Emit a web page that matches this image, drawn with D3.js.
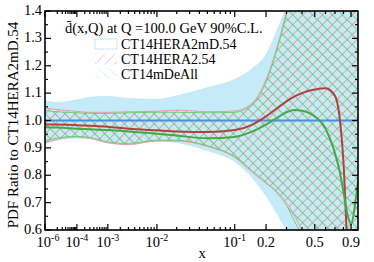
<!DOCTYPE html>
<html>
<head>
<meta charset="utf-8">
<script src="https://cdn.jsdelivr.net/npm/d3@7"></script>
<style>
  body { margin: 0; background: #fff; }
  svg { display: block; }
  svg text { font-family: "Liberation Serif", "DejaVu Serif", serif; }
</style>
</head>
<body>
<div id="myChart"></div>
<script>
let width = 374
let height = 262

// values
const xs = [1e-6, 1e-5, 1e-4, 3e-4, 1e-3, 3e-3, 1e-2, 2e-2, 5e-2, 0.1, 0.15, 0.2, 0.25, 0.3, 0.35, 0.4, 0.5, 0.6, 0.7, 0.75, 0.8, 0.85, 0.9, 0.95, 1.0]
const blueHi = [1.072, 1.066, 1.075, 1.085, 1.088, 1.080, 1.077, 1.090, 1.120, 1.150, 1.190, 1.240, 1.330, 1.420, 1.550, 1.700, 1.800, 1.800, 1.800, 1.800, 1.800, 1.800, 1.800, 1.800, 1.800]
const blueLo = [0.916, 0.928, 0.935, 0.933, 0.920, 0.912, 0.925, 0.920, 0.890, 0.850, 0.790, 0.725, 0.660, 0.600, 0.550, 0.500, 0.400, 0.400, 0.400, 0.400, 0.400, 0.400, 0.400, 0.400, 0.400]
const pinkHi = [1.045, 1.040, 1.033, 1.030, 1.030, 1.032, 1.034, 1.038, 1.032, 1.035, 1.065, 1.150, 1.270, 1.400, 1.550, 1.700, 1.800, 1.800, 1.800, 1.800, 1.800, 1.800, 1.800, 1.800, 1.800]
const pinkLo = [0.918, 0.932, 0.940, 0.935, 0.918, 0.912, 0.925, 0.925, 0.905, 0.865, 0.810, 0.770, 0.740, 0.700, 0.650, 0.600, 0.500, 0.450, 0.400, 0.400, 0.400, 0.400, 0.400, 0.400, 0.400]
const greenHi = [1.036, 1.032, 1.028, 1.026, 1.026, 1.028, 1.030, 1.030, 1.028, 1.030, 1.060, 1.140, 1.260, 1.390, 1.540, 1.700, 1.800, 1.800, 1.800, 1.800, 1.800, 1.800, 1.800, 1.800, 1.800]
const greenLo = [0.926, 0.936, 0.942, 0.938, 0.922, 0.916, 0.928, 0.928, 0.908, 0.868, 0.815, 0.775, 0.735, 0.690, 0.630, 0.580, 0.500, 0.450, 0.400, 0.400, 0.400, 0.400, 0.400, 0.400, 0.400]
const redMid = [0.985, 0.985, 0.983, 0.981, 0.977, 0.970, 0.964, 0.960, 0.958, 0.965, 0.985, 1.015, 1.045, 1.070, 1.088, 1.100, 1.113, 1.118, 1.090, 1.020, 0.850, 0.550, 0.400, 0.400, 0.400]
const greenMid = [0.975, 0.974, 0.970, 0.968, 0.965, 0.960, 0.952, 0.945, 0.935, 0.940, 0.960, 0.985, 1.010, 1.030, 1.038, 1.036, 1.015, 0.970, 0.880, 0.820, 0.740, 0.660, 0.620, 0.680, 0.780]

const xMajor = [1e-6, 1e-4, 1e-3, 1e-2, 0.1, 0.2, 0.5, 0.9]
const xLabels = [["10", "-6"], ["10", "-4"], ["10", "-3"], ["10", "-2"], ["10", "-1"], ["0.2", ""], ["0.5", ""], ["0.9", ""]]
const yMajor = [0.6, 0.7, 0.8, 0.9, 1.0, 1.1, 1.2, 1.3, 1.4]
const legendNames = ["CT14HERA2mD.54", "CT14HERA2.54", "CT14mDeAll"]

const pLeft = 45, pRight = 358, pTop = 11, pBottom = 230

let x = d3.scalePow().exponent(0.2).domain([1e-6, 1]).range([pLeft, pRight])
let y = d3.scaleLinear().domain([0.6, 1.4]).range([pBottom, pTop])

let svg = d3.select("#myChart")
  .append("svg")
  .attr("width", width)
  .attr("height", height)

let defs = svg.append("defs")
defs.append("clipPath").attr("id", "plotclip")
  .append("rect")
  .attr("x", pLeft).attr("y", pTop)
  .attr("width", pRight - pLeft).attr("height", pBottom - pTop)

function hatch(id, color, angle, sw, dash) {
  let p = defs.append("pattern")
    .attr("id", id)
    .attr("patternUnits", "userSpaceOnUse")
    .attr("width", 7).attr("height", 7)
    .attr("patternTransform", "rotate(" + angle + ")")
  p.append("line")
    .attr("x1", 0).attr("y1", 0).attr("x2", 0).attr("y2", 7)
    .attr("stroke", color)
    .attr("stroke-width", sw)
    .attr("stroke-dasharray", dash)
}
hatch("pinkHatch", "#ee8896", 45, 1.6, null)
hatch("greenHatch", "#5cc85c", -45, 1.6, null)
hatch("pinkHatchL", "#f4a8b2", 45, 1, null)
hatch("greenHatchL", "#8fdc8f", -45, 1, "1,1")

let idx = d3.range(xs.length)
let band = (hi, lo) => d3.area()
  .x(i => x(xs[i]))
  .y0(i => y(lo[i]))
  .y1(i => y(hi[i]))
  .curve(d3.curveMonotoneX)
let line = vals => d3.line()
  .x(i => x(xs[i]))
  .y(i => y(vals[i]))
  .curve(d3.curveMonotoneX)

let plot = svg.append("g").attr("clip-path", "url(#plotclip)")

plot.append("path").attr("d", band(blueHi, blueLo)(idx))
  .attr("fill", "#c6ebf8").attr("stroke", "#b0e0f4").attr("stroke-width", 0.6)
plot.append("path").attr("d", band(pinkHi, pinkLo)(idx))
  .attr("fill", "url(#pinkHatch)")
plot.append("path").attr("d", band(greenHi, greenLo)(idx))
  .attr("fill", "url(#greenHatch)")

// band edges
;[[pinkHi, "#ee8896"], [pinkLo, "#ee8896"], [greenHi, "#5cc85c"], [greenLo, "#5cc85c"]].forEach(d => {
  plot.append("path").attr("d", line(d[0])(idx))
    .attr("fill", "none").attr("stroke", d[1]).attr("stroke-width", 0.8)
})

plot.append("line")
  .attr("x1", pLeft).attr("x2", pRight)
  .attr("y1", y(1)).attr("y2", y(1))
  .attr("stroke", "#4a90e2").attr("stroke-width", 2)
plot.append("path").attr("d", line(redMid)(idx))
  .attr("fill", "none").attr("stroke", "#b3403e").attr("stroke-width", 2)
plot.append("path").attr("d", line(greenMid)(idx))
  .attr("fill", "none").attr("stroke", "#45a845").attr("stroke-width", 2)

// axes, ticks inward on all four sides
let xMinor = []
for (let e = -5; e <= -1; e++) {
  for (let k = 1; k <= 9; k++) {
    let v = k * Math.pow(10, e)
    if (!xMajor.some(m => Math.abs(m - v) < v * 1e-6)) xMinor.push(v)
  }
}
let yMinor = d3.range(0.65, 1.4, 0.1)

function ticks(g, vals, len, horizontal) {
  vals.forEach(v => {
    if (horizontal) {
      g.append("line").attr("x1", x(v)).attr("x2", x(v)).attr("y1", pBottom).attr("y2", pBottom - len)
      g.append("line").attr("x1", x(v)).attr("x2", x(v)).attr("y1", pTop).attr("y2", pTop + len)
    } else {
      g.append("line").attr("y1", y(v)).attr("y2", y(v)).attr("x1", pLeft).attr("x2", pLeft + len)
      g.append("line").attr("y1", y(v)).attr("y2", y(v)).attr("x1", pRight).attr("x2", pRight - len)
    }
  })
}
let tg = svg.append("g").attr("stroke", "#000").attr("stroke-width", 1.2)
ticks(tg, xMajor, 6, true)
ticks(tg, xMinor, 3, true)
ticks(tg, yMajor, 6, false)
ticks(tg, yMinor, 3, false)

svg.append("rect")
  .attr("x", pLeft).attr("y", pTop)
  .attr("width", pRight - pLeft).attr("height", pBottom - pTop)
  .attr("fill", "none").attr("stroke", "#000").attr("stroke-width", 1.6)

svg.append("g").selectAll("text")
  .data(yMajor)
  .enter().append("text")
  .attr("x", pLeft - 3)
  .attr("y", d => y(d) + 4)
  .attr("text-anchor", "end")
  .attr("font-size", 14.5)
  .text(d => d.toFixed(1))

xMajor.forEach((v, i) => {
  let t = svg.append("text")
    .attr("x", x(v) + (i == 0 ? 3 : 0))
    .attr("y", 246.5)
    .attr("text-anchor", "middle")
    .attr("font-size", 14.5)
  t.append("tspan").text(xLabels[i][0])
  if (xLabels[i][1]) {
    t.append("tspan").attr("dy", -6).attr("font-size", 10).text(xLabels[i][1])
  }
})

svg.append("text")
  .attr("x", 202).attr("y", 258)
  .attr("text-anchor", "middle")
  .attr("font-size", 14.5)
  .text("x")

svg.append("text")
  .attr("transform", "translate(18," + 125 + ") rotate(-90)")
  .attr("text-anchor", "middle")
  .attr("font-size", 15)
  .text("PDF Ratio to CT14HERA2mD.54")

// legend
svg.append("text")
  .attr("x", 65).attr("y", 33)
  .attr("font-size", 14.5)
  .text("d\u0304(x,Q) at Q =100.0 GeV 90%C.L.")

let rows = [44, 59.5, 74]
let lg = svg.append("g")
lg.append("rect").attr("x", 95).attr("y", rows[0] - 5).attr("width", 22).attr("height", 10)
  .attr("fill", "#fff").attr("stroke", "#c2e8f6").attr("stroke-width", 1)
lg.append("rect").attr("x", 95).attr("y", rows[1] - 5).attr("width", 22).attr("height", 10)
  .attr("fill", "url(#pinkHatchL)")
lg.append("rect").attr("x", 95).attr("y", rows[2] - 5).attr("width", 22).attr("height", 10)
  .attr("fill", "url(#greenHatchL)")
legendNames.forEach((n, i) => {
  lg.append("text")
    .attr("x", 121).attr("y", rows[i] + 4.5)
    .attr("font-size", 14)
    .text(n)
})
</script>
</body>
</html>
